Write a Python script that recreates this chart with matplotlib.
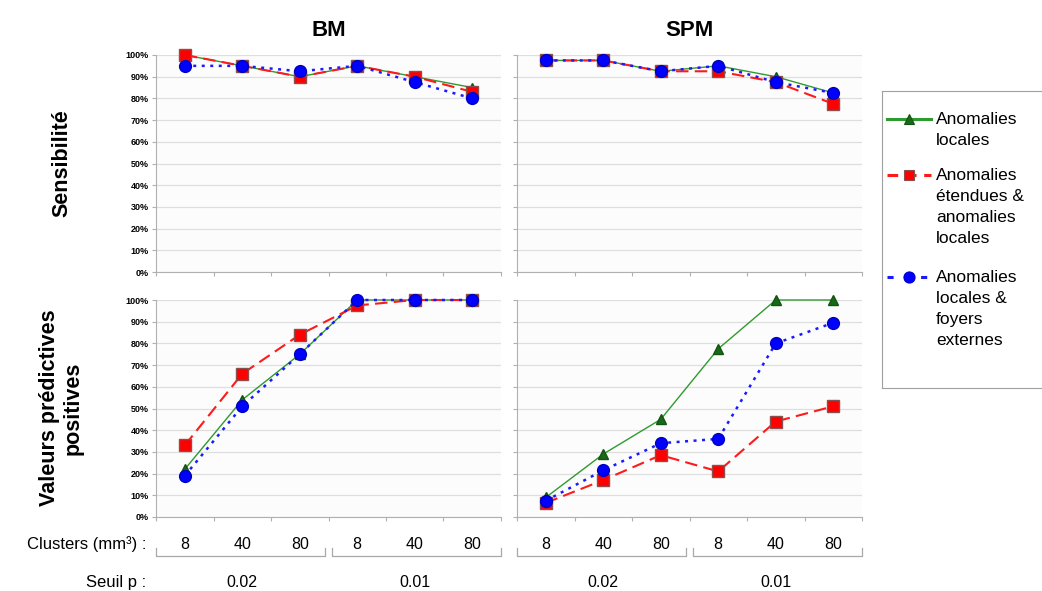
import numpy as np
import matplotlib
matplotlib.use("Agg")
import matplotlib.pyplot as plt
from matplotlib.lines import Line2D

plt.rcParams['font.family'] = ['Liberation Sans', 'DejaVu Sans']

# data (percent)
clusters = ["8", "40", "80", "8", "40", "80"]
seuils = ["0.02", "0.01"]
methods = ["BM", "SPM"]
rows = ["Sensibilité", "Valeurs prédictives\npositives"]
series_labels = ["Anomalies\nlocales",
                 "Anomalies\nétendues &\nanomalies\nlocales",
                 "Anomalies\nlocales &\nfoyers\nexternes"]

sens_bm_locales = [100, 95, 90, 95, 90, 85]
sens_bm_etendues = [100, 95, 90, 95, 90, 83]
sens_bm_foyers = [95, 95, 92.5, 95, 87.5, 80]
sens_spm_locales = [97.5, 97.5, 92.5, 95, 90, 82.5]
sens_spm_etendues = [97.5, 97.5, 92.5, 92.5, 87.5, 77.5]
sens_spm_foyers = [97.5, 97.5, 92.5, 95, 87.5, 82.5]

vpp_bm_locales = [22, 54, 75, 100, 100, 100]
vpp_bm_etendues = [33, 66, 84, 97.5, 100, 100]
vpp_bm_foyers = [19, 51, 75, 100, 100, 100]
vpp_spm_locales = [9, 29, 45, 77.5, 100, 100]
vpp_spm_etendues = [6.5, 17, 28.5, 21, 44, 51]
vpp_spm_foyers = [7.5, 21.5, 34, 36, 80, 89.5]

panels = [[(sens_bm_locales, sens_bm_etendues, sens_bm_foyers),
           (sens_spm_locales, sens_spm_etendues, sens_spm_foyers)],
          [(vpp_bm_locales, vpp_bm_etendues, vpp_bm_foyers),
           (vpp_spm_locales, vpp_spm_etendues, vpp_spm_foyers)]]

# styles for the three series
styles = [
    dict(color='#2f9a2f', ls='-', lw=1.0, marker='^', ms=7.5, mfc='#176b17', mec='#145214'),
    dict(color='#ff1a1a', ls=(0, (6, 3)), lw=1.5, marker='s', ms=8, mfc='#ff0000', mec='#8a5050'),
    dict(color='#1a1aff', ls=(0, (1.2, 2.2)), lw=1.8, marker='o', ms=8.5, mfc='#0000ff', mec='#0000c0'),
]
legend_dashes = ['-', (0, (3.5, 2.5)), (0, (2, 3.5))]

W, H = 1042, 591
fig = plt.figure(figsize=(W / 100, H / 100), dpi=100)

lefts = [156, 517]
tops = [55, 300]
aw, ah = 345, 217

x = np.arange(len(clusters))
for r in range(2):
    for c in range(2):
        ax = fig.add_axes([lefts[c] / W, 1 - (tops[r] + ah) / H, aw / W, ah / H])
        ax.set_facecolor('#fcfcfc')
        for k, vals in enumerate(panels[r][c]):
            ax.plot(x, np.array(vals) / 100, clip_on=False, zorder=3 + k, **styles[k])
        ax.set_xlim(-0.5, 5.5)
        ax.set_ylim(0, 1)
        ax.set_yticks(np.linspace(0, 1, 11))
        ax.yaxis.grid(True, color='#dedede', lw=0.9)
        ax.set_axisbelow(True)
        if c == 0:
            ax.set_yticklabels([f"{int(v)}%" for v in np.arange(0, 101, 10)],
                               fontsize=6.5, fontweight='bold')
        else:
            ax.set_yticklabels([])
        ax.set_xticks(np.arange(-0.5, 6, 1))
        ax.set_xticklabels([])
        ax.tick_params(axis='both', length=3, color='#b0b0b0', width=0.8, pad=2)
        for s in ['top', 'right']:
            ax.spines[s].set_visible(False)
        for s in ['left', 'bottom']:
            ax.spines[s].set_color('#b0b0b0')
            ax.spines[s].set_linewidth(0.8)

        if r == 0:
            ax.set_title(methods[c], fontsize=16, fontweight='bold', pad=14)
        else:
            tr = ax.get_xaxis_transform()
            for i, lab in enumerate(clusters):
                ax.text(i, -0.125, lab, transform=tr, ha='center', va='center', fontsize=11.5)
            for g, lab in enumerate(seuils):
                x0, x1 = (-0.5, 2.44) if g == 0 else (2.56, 5.5)
                ax.plot([x0, x0, x1, x1], [-0.145, -0.182, -0.182, -0.145], transform=tr,
                        color='#a8a8a8', lw=0.9, clip_on=False)
                ax.text(1 + 3 * g, -0.30, lab, transform=tr, ha='center', va='center',
                        fontsize=11.5)

# row titles
fig.text(62 / W, 1 - 163 / H, rows[0], rotation=90, ha='center', va='center',
         fontsize=15.5, fontweight='bold')
fig.text(61 / W, 1 - 408 / H, rows[1], rotation=90, ha='center', va='center',
         fontsize=15.5, fontweight='bold', linespacing=1.15)

# axis captions
fig.text(146 / W, 1 - 544 / H, "Clusters (mm³) :", ha='right', va='center', fontsize=12)
fig.text(146 / W, 1 - 582 / H, "Seuil p :", ha='right', va='center', fontsize=12)

# legend box drawn by hand
lax = fig.add_axes([882 / W, 1 - 388 / H, 175 / W, 297 / H])
lax.set_xlim(882, 1057)
lax.set_ylim(388, 91)
lax.set_xticks([])
lax.set_yticks([])
lax.set_facecolor('white')
for s in lax.spines.values():
    s.set_color('#a0a0a0')
    s.set_linewidth(0.8)
handle_y = [119, 175, 277]
for k, (lab, yy) in enumerate(zip(series_labels, handle_y)):
    st = styles[k]
    lax.add_line(Line2D([887, 931], [yy, yy], color=st['color'], ls=legend_dashes[k], lw=2.2))
    lax.add_line(Line2D([909], [yy], marker=st['marker'], ms=st['ms'] - 0.5, mfc=st['mfc'],
                        mec=st['mec'], ls='none', markeredgewidth=0.8))
    lax.text(936, yy - 7, lab, ha='left', va='top', fontsize=12.5, linespacing=1.5)

fig.savefig("out.png", dpi=100)
